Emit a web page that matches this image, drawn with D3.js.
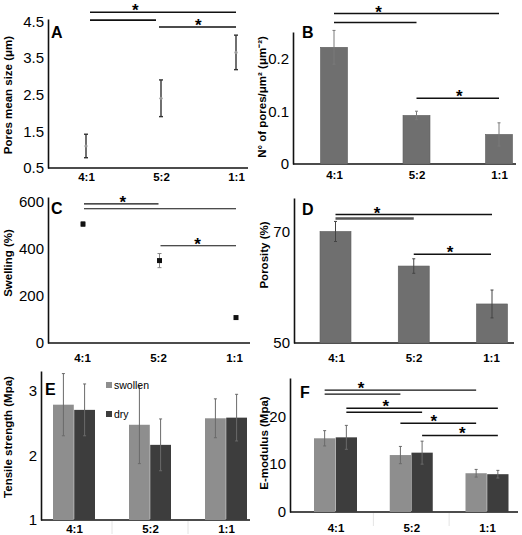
<!DOCTYPE html>
<html><head><meta charset="utf-8">
<script src="https://cdn.jsdelivr.net/npm/d3@7"></script>
<style>
body{margin:0;background:#fff}
svg{display:block}
text{font-family:"Liberation Sans",Arial,sans-serif;fill:#000}
</style></head><body>
<svg id="c" width="522" height="535"></svg>
<script>
// ---------- DATA ----------
const categories = ["4:1","5:2","1:1"];
const seriesNames = ["swollen","dry"];
// A: pores mean size (µm)
const poreSize = [1.1, 2.4, 3.65];
const poreSizeErr = [0.32, 0.5, 0.47];
const poreSizeTicks = [0.5, 1.5, 2.5, 3.5, 4.5];
// B: number of pores per µm²
const poreDensity = [0.221, 0.092, 0.056];
const poreDensityErr = [0.032, 0.008, 0.022];
const poreDensityTicks = [0, 0.1, 0.2];
// C: swelling (%)
const swelling = [505, 350, 108];
const swellingErr = [10, 30, 6];
const swellingTicks = [0, 200, 400, 600];
// D: porosity (%)
const porosity = [70, 63.8, 57];
const porosityErr = [1.8, 1.3, 2.5];
const porosityTicks = [50, 70];
// E: tensile strength (MPa)
const tensileSwollen = [2.78, 2.47, 2.57];
const tensileSwollenErr = [0.48, 0.6, 0.3];
const tensileDry = [2.7, 2.16, 2.58];
const tensileDryErr = [0.4, 0.4, 0.36];
const tensileTicks = [1, 2, 3];
// F: E-modulus (MPa)
const modulusSwollen = [15.4, 11.9, 8.1];
const modulusSwollenErr = [1.6, 1.8, 0.8];
const modulusDry = [15.6, 12.4, 7.9];
const modulusDryErr = [2.5, 2.4, 0.8];
const modulusTicks = [0, 10, 20];
// significance brackets: [from, to, level (data units), star?, star position fraction]
const sigA = [["4:1","1:1",4.745,true,0.31],["4:1","5:2",4.53,false,0],["5:2","1:1",4.34,true,0.51]];
const sigB = [["4:1","1:1",0.285,true,0.27],["4:1","5:2",0.268,false,0],["5:2","1:1",0.1245,true,0.52]];
const sigC = [["4:1","5:2",591,true,0.52],["4:1","1:1",570,false,0],["5:2","1:1",413,true,0.49]];
const sigD = [["4:1","1:1",73.04,true,0.265],["4:1","5:2",72.32,false,0],["5:2","1:1",65.9,true,0.47]];
// F: [series, from, to, level, star?, frac]
const sigF = [
  ["swollen","4:1","1:1",25.47,true,0.24],
  ["swollen","4:1","5:2",24.63,false,0],
  ["dry","4:1","1:1",21.68,true,0.26],
  ["dry","4:1","5:2",20.84,false,0],
  ["swollen","5:2","1:1",18.53,true,0.44],
  ["dry","5:2","1:1",16.0,true,0.53]
];

// ---------- DRAW ----------
const svg = d3.select("#c");
const FF = '"Liberation Sans",Arial,sans-serif';

function panel(cfg){
  const g = svg.append("g");
  const y = d3.scaleLinear().domain(cfg.yDomain).range([cfg.bottom, cfg.top]);
  const x = d3.scalePoint().domain(categories).range(cfg.xRange);
  const ya = g.append("g").attr("transform",`translate(${cfg.axisX},0)`)
    .call(d3.axisLeft(y).tickValues(cfg.ticks).tickSize(0).tickSizeOuter(0).tickPadding(4).tickFormat(cfg.fmt||(d=>d)));
  ya.select(".domain").attr("stroke","#111").attr("stroke-width",1.6);
  ya.selectAll("text").style("font-size","15px").attr("fill","#111").style("font-family",FF);
  g.append("line").attr("x1",cfg.axisX).attr("x2",cfg.axisRight).attr("y1",cfg.bottom).attr("y2",cfg.bottom)
    .attr("stroke","#111").attr("stroke-width",1.6);
  const xa = g.append("g").attr("transform",`translate(0,${cfg.bottom})`)
    .call(d3.axisBottom(d3.scalePoint().domain(categories).range(cfg.labelRange||cfg.xRange)).tickSize(0).tickPadding(cfg.labelPad));
  xa.select(".domain").remove();
  xa.selectAll("text").style("font-size","11.5px").style("font-weight","bold").attr("fill","#111").style("font-family",FF);
  g.append("text").attr("transform",`translate(${cfg.titleX},${cfg.titleY}) rotate(-90)`)
    .attr("text-anchor","middle").style("font-size","11.5px").style("font-weight","bold").text(cfg.title);
  g.append("text").attr("x",cfg.letterX).attr("y",cfg.letterY).style("font-size","16px").style("font-weight","bold").text(cfg.letter);
  return {g,x,y};
}

function errBars(g, xs, ys, es, y, capW, color, sw){
  const eg = g.append("g").attr("stroke",color).attr("stroke-width",sw||1);
  xs.forEach((xv,i)=>{
    const y1 = y(ys[i]+es[i]), y2 = y(ys[i]-es[i]);
    eg.append("line").attr("x1",xv).attr("x2",xv).attr("y1",y1).attr("y2",y2);
    eg.append("line").attr("x1",xv-capW/2).attr("x2",xv+capW/2).attr("y1",y1).attr("y2",y1);
    eg.append("line").attr("x1",xv-capW/2).attr("x2",xv+capW/2).attr("y1",y2).attr("y2",y2);
  });
}

function brackets(g, list, xf, y, opts){
  list.forEach((b,i)=>{
    const x1 = xf(b,0), x2 = xf(b,1);
    const lvl = b[b.length-3], star = b[b.length-2], frac = b[b.length-1];
    const o = (opts.styles && opts.styles[i]) || {};
    g.append("line").attr("x1",x1).attr("x2",x2).attr("y1",y(lvl)).attr("y2",y(lvl))
      .attr("stroke",o.color||"#111").attr("stroke-width",o.w||opts.w||1.5);
    if(star){
      g.append("text").attr("x",x1+frac*(x2-x1)).attr("y",y(lvl)+opts.starDy)
        .attr("text-anchor","middle").style("font-size","17px").style("font-weight","bold").text("*");
    }
  });
}

// ---- A ----
{
  const {g,x,y} = panel({yDomain:[0.5,4.56],bottom:168,top:19,axisX:48,axisRight:248,xRange:[86,236],
    ticks:poreSizeTicks,fmt:d3.format(".1f"),labelPad:5,title:"Pores mean size (μm)",titleX:12,titleY:95,
    letter:"A",letterX:51,letterY:38});
  const xs = categories.map(c=>x(c));
  errBars(g, xs, poreSize, poreSizeErr, y, 4, "#333", 1.4);
  g.selectAll(".pt").data(poreSize).join("circle").attr("cx",(d,i)=>xs[i]).attr("cy",d=>y(d)).attr("r",1.6).attr("fill","#999");
  brackets(g, sigA, (b,k)=>x(b[k]) + (k===1 && b[1]==="5:2" ? -5 : 0) + (k===0 && b[0]==="5:2" ? -2 : 0) + (k===0 && b[0]==="4:1" ? 4 : 0), y, {starDy:4, w:1.6});
}
// ---- B ----
{
  const {g,x,y} = panel({yDomain:[0,0.25],bottom:164,top:32,axisX:293,axisRight:516,xRange:[334,499],
    ticks:poreDensityTicks,fmt:d=>d===0?"0":d3.format(".1f")(d),labelPad:7,title:"N° of pores/μm² (μm⁻²)",titleX:266,titleY:97,
    letter:"B",letterX:302,letterY:38});
  const bw = 27;
  g.selectAll(".bar").data(poreDensity).join("rect").attr("x",(d,i)=>x(categories[i])-bw/2).attr("width",bw)
    .attr("y",d=>y(d)).attr("height",d=>y(0)-y(d)).attr("fill","#6f6f6f").attr("stroke","#5e5e5e").attr("stroke-width",0.6);
  errBars(g, categories.map(c=>x(c)), poreDensity, poreDensityErr, y, 3, "#7a7a7a", 1);
  brackets(g, sigB, (b,k)=>x(b[k]), y, {starDy:4, w:1.6});
}
// ---- C ----
{
  const {g,x,y} = panel({yDomain:[0,620],bottom:343,top:197,axisX:48,axisRight:250,xRange:[83,236],labelRange:[82,234],
    ticks:swellingTicks,labelPad:11,title:"Swelling (%)",titleX:12,titleY:263,
    letter:"C",letterX:51,letterY:214});
  const xs = categories.map(c=>x(c));
  errBars(g, xs, swelling, swellingErr, y, 4, "#888", 1);
  g.selectAll(".pt").data(swelling).join("rect").attr("x",(d,i)=>xs[i]-2.5).attr("y",d=>y(d)-2.5)
    .attr("width",5).attr("height",5).attr("fill","#111");
  brackets(g, sigC, (b,k)=>x(b[k]) + (k===0?1:0) - (k===1 && b[1]==="5:2" ? 1 : 0), y, {starDy:4, w:1.1});
}
// ---- D ----
{
  const {g,x,y} = panel({yDomain:[50,76],bottom:343,top:198,axisX:294,axisRight:514,xRange:[335.5,492],labelRange:[336,491],
    ticks:porosityTicks,labelPad:11,title:"Porosity (%)",titleX:268,titleY:255,
    letter:"D",letterX:302,letterY:215});
  const bw = 31;
  g.selectAll(".bar").data(porosity).join("rect").attr("x",(d,i)=>x(categories[i])-bw/2).attr("width",bw)
    .attr("y",d=>y(d)).attr("height",d=>y(50)-y(d)).attr("fill","#6f6f6f").attr("stroke","#5e5e5e").attr("stroke-width",0.6);
  errBars(g, categories.map(c=>x(c)), porosity, porosityErr, y, 3, "#444", 1);
  brackets(g, sigD, (b,k)=>x(b[k]) - (k===1 && b[1]==="1:1" && b[0]==="5:2" ? 1 : 0), y,
    {starDy:4, w:1.5, styles:[{},{color:"#555",w:2.6},{}]});
}
// ---- E & F (grouped) ----
function grouped(cfg, sw, swE, dr, drE){
  const {g,x,y} = panel(cfg);
  const sub = d3.scaleBand().domain(seriesNames).range([-cfg.bw, cfg.bw]).paddingInner(0.02);
  const colors = {swollen:"#8e8e8e", dry:"#3d3d3d"};
  const sep = d3.pairs(categories).map(([a,b])=>(x(a)+x(b))/2);
  g.selectAll(".sep").data(sep).join("line").attr("x1",d=>d).attr("x2",d=>d).attr("y1",cfg.bottom+1).attr("y2",cfg.bottom+14)
    .attr("stroke","#e4e4e4").attr("stroke-width",1);
  const data = {swollen:[sw,swE], dry:[dr,drE]};
  seriesNames.forEach(s=>{
    const [vals, errs] = data[s];
    g.selectAll(".b"+s).data(vals).join("rect").attr("x",(d,i)=>x(categories[i])+sub(s)).attr("width",sub.bandwidth())
      .attr("y",d=>y(d)).attr("height",d=>y(cfg.yDomain[0])-y(d)).attr("fill",colors[s]);
    errBars(g, categories.map(c=>x(c)+sub(s)+sub.bandwidth()/2), vals, errs, y, 3, "#6a6a6a", 1);
  });
  return {g,x,y,sub,colors};
}
{
  const {g,x,y,sub,colors} = grouped({yDomain:[1,3.3],bottom:520,top:371,axisX:41,axisRight:250,xRange:[74,226],
    ticks:tensileTicks,labelPad:5,title:"Tensile strength (Mpa)",titleX:12,titleY:437,
    letter:"E",letterX:45,letterY:395,bw:21}, tensileSwollen, tensileSwollenErr, tensileDry, tensileDryErr);
  const lg = g.append("g");
  seriesNames.forEach((s,i)=>{
    lg.append("rect").attr("x",106).attr("y",382+i*29).attr("width",6).attr("height",6).attr("fill",colors[s]);
    lg.append("text").attr("x",114).attr("y",388.5+i*29).style("font-size","10.5px").attr("fill","#333").text(s);
  });
}
{
  const {g,x,y,sub} = grouped({yDomain:[0,28],bottom:512,top:378,axisX:290,axisRight:518,xRange:[335.5,487],
    ticks:modulusTicks,labelPad:12,title:"E-modulus (Mpa)",titleX:268,titleY:443,
    letter:"F",letterX:300,letterY:398,bw:21.5}, modulusSwollen, modulusSwollenErr, modulusDry, modulusDryErr);
  brackets(g, sigF, (b,k)=>x(b[1+k])+sub(b[0])+sub.bandwidth()/2, y, {starDy:4, w:1.4});
}
</script>
</body></html>
